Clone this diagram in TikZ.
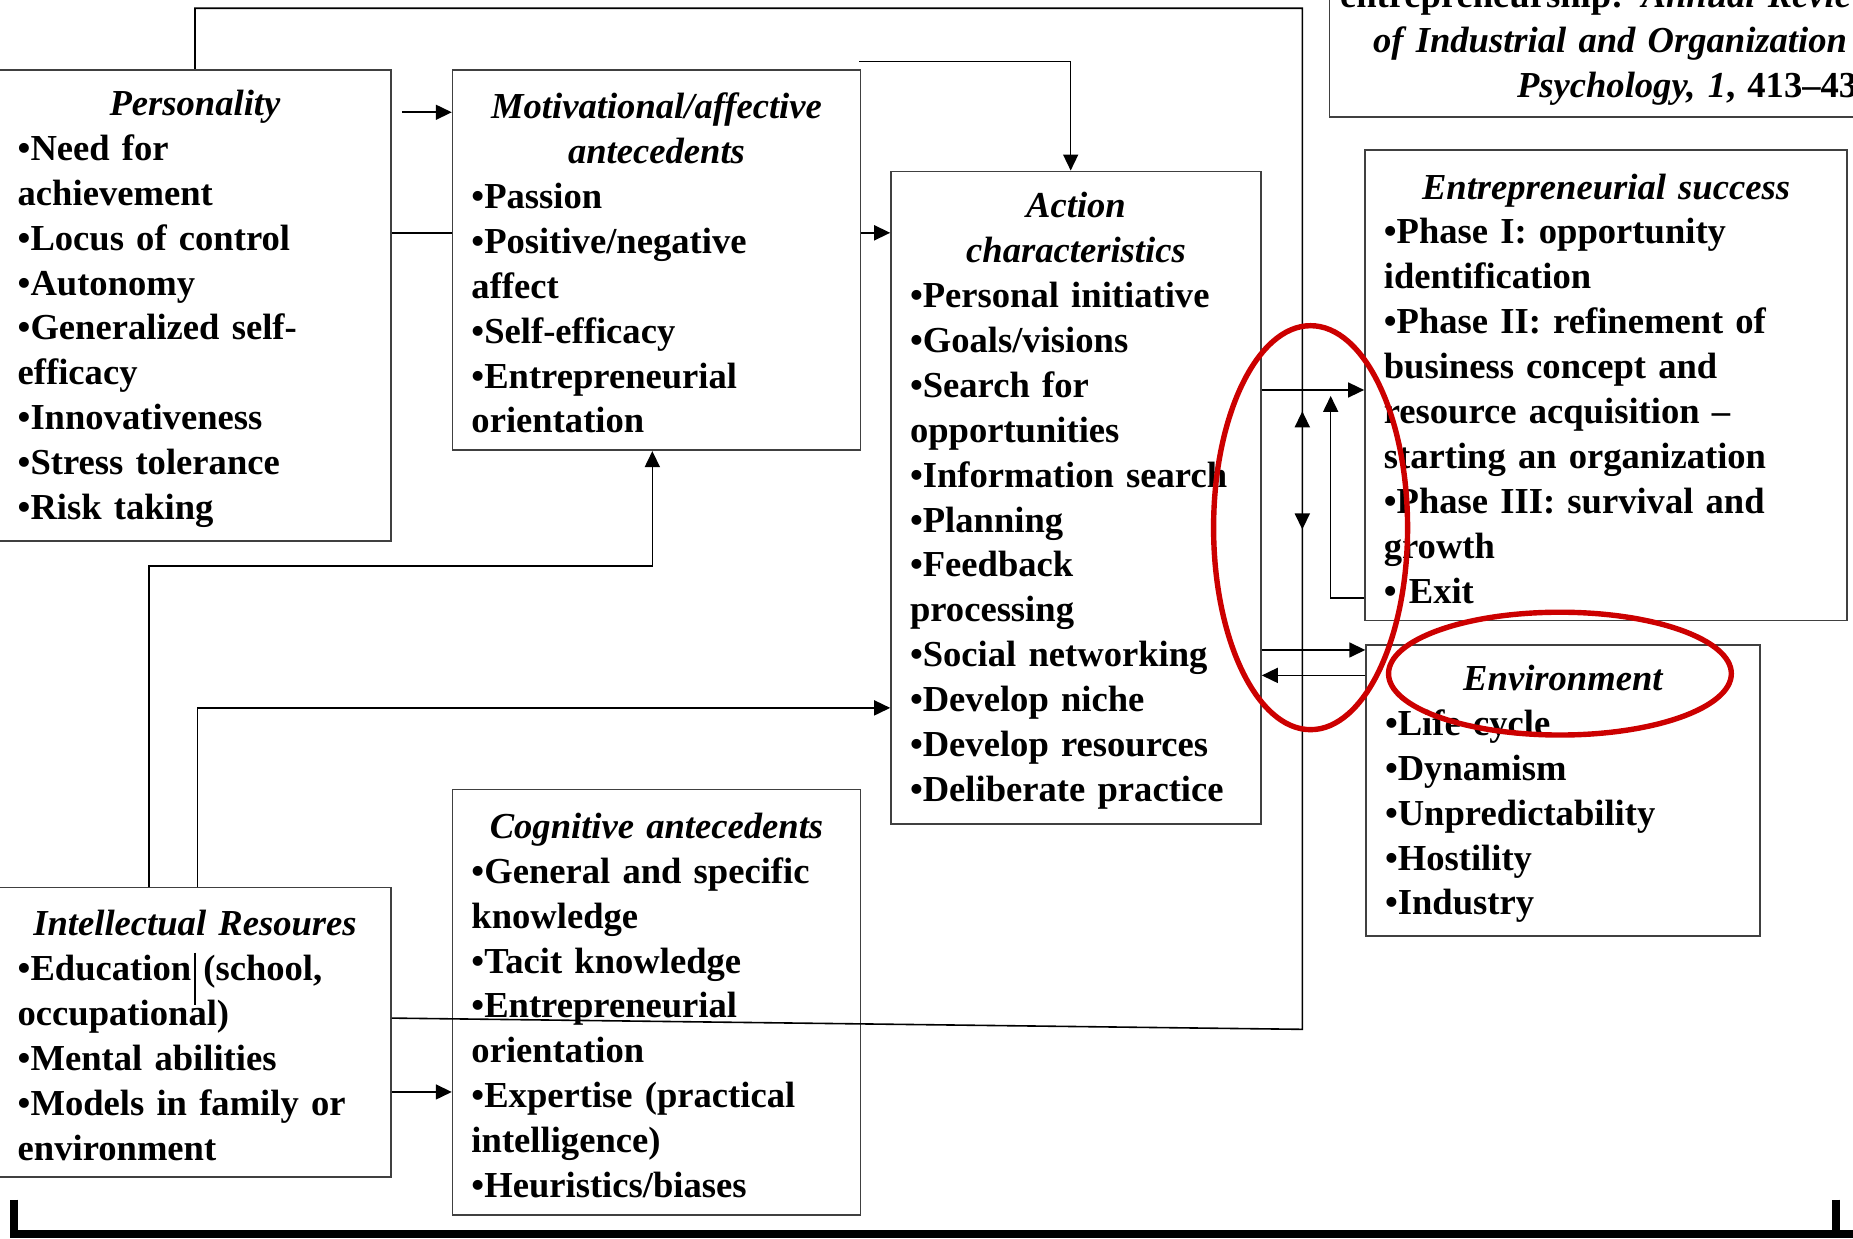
\documentclass[tikz,border=0pt]{standalone}
\usepackage{fontspec}
\setmainfont{Liberation Serif}
\usetikzlibrary{arrows.meta}
\definecolor{ringred}{RGB}{204,0,0}
\newcommand{\hd}[1]{\makebox[\linewidth]{\itshape #1}}

\begin{document}
\begin{tikzpicture}[x=0.5909pt, y=-0.5909pt]
\tikzset{>={Triangle[length=8pt, width=7.5pt]},
    block/.style={rectangle, draw=black!75, line width=0.8pt, align=left, inner xsep=9.45pt, inner ysep=0pt,
        text height=16pt, font=\fontsize{18.3}{22.45}\selectfont\bfseries},
    link/.style={line width=0.8pt},
    ring/.style={draw=ringred, line width=2.7pt}
}
\useasboundingbox (0,0) rectangle (1568,1048);

  \node[block, minimum width=196.2pt, minimum height=235.8pt, text width=177.3pt] (pers) at (165,258.5)
    {\hd{Personality}\\ •Need for\\ achievement\\ •Locus of control\\ •Autonomy\\ •Generalized self-\\ efficacy\\ •Innovativeness\\ •Stress tolerance\\ •Risk taking};
  \node[block, minimum width=203.9pt, minimum height=190.3pt, text width=185pt] (motiv) at (555.5,220)
    {\hd{Motivational/affective}\\ \hd{antecedents}\\ •Passion\\ •Positive/negative\\ affect\\ •Self-efficacy\\ •Entrepreneurial\\ orientation};
  \node[block, minimum width=185pt, minimum height=326.2pt, text width=166pt] (action) at (910.5,421)
    {\hd{Action}\\ \hd{characteristics}\\ •Personal initiative\\ •Goals/visions\\ •Search for\\ opportunities\\ •Information search\\ •Planning\\ •Feedback\\ processing\\ •Social networking\\ •Develop niche\\ •Develop resources\\ •Deliberate practice};
  \node[block, align=right, inner xsep=4.73pt, minimum width=277.7pt, minimum height=76.8pt, text width=268.3pt] (cite) at (1360,34)
    {entrepreneurship: \textit{Annual Revie\phantom{w}}\\ \textit{of Industrial and Organization\phantom{al}}\\ \textit{Psychology, 1}, 413–43\phantom{8}};
  \node[block, minimum width=241.1pt, minimum height=235.2pt, text width=222.2pt] (success) at (1359,326)
    {\hd{Entrepreneurial success}\\ •Phase I: opportunity\\ identification\\ •Phase II: refinement of\\ business concept and\\ resource acquisition –\\ starting an organization\\ •Phase III: survival and\\ growth\\ • Exit};
  \node[block, minimum width=196.8pt, minimum height=145.4pt, text width=177.9pt] (env) at (1322.5,669)
    {\hd{Environment}\\ •Life cycle\\ •Dynamism\\ •Unpredictability\\ •Hostility\\ •Industry};
  \node[block, minimum width=196.2pt, minimum height=144.8pt, text width=177.3pt] (intel) at (165,873.5)
    {\hd{Intellectual Resoures}\\ •Education (school,\\ occupational)\\ •Mental abilities\\ •Models in family or\\ environment};
  \node[block, minimum width=203.9pt, minimum height=212.7pt, text width=185pt] (cogn) at (555.5,848)
    {\hd{Cognitive antecedents}\\ •General and specific\\ knowledge\\ •Tacit knowledge\\ •Entrepreneurial\\ orientation\\ •Expertise (practical\\ intelligence)\\ •Heuristics/biases};

  % feedback loop round the whole model
  \coordinate (ptop) at (1102,7);
  \coordinate (pbot) at (1102,871);
  \coordinate (pend) at (0,861.5);
  \draw[link] (pers.north) |- (ptop) -- (pbot) -- (intel.east |- pend);
  \coordinate (bi1) at (1102,348);
  \coordinate (bi2) at (1102,448);
  \draw[link,<->] (bi1) -- (bi2);

  \coordinate (pm1) at (340,95);
  \draw[link,->] (pm1) -- (motiv.west |- pm1);
  \coordinate (pm2) at (0,197);
  \draw[link] (pers.east |- pm2) -- (motiv.west |- pm2);
  \draw[link,->] (motiv.east |- pm2) -- (action.west |- pm2);
  \coordinate (ma1) at (727,52);
  \coordinate (ma2) at (906,52);
  \draw[link,->] (ma1) -- (ma2) -- (ma2 |- action.north);

  \coordinate (im1) at (126,479);
  \coordinate (im2) at (552,479);
  \draw[link,->] (intel.north -| im1) -- (im1) -- (im2) -- (im2 |- motiv.south);
  \coordinate (ia1) at (167,599);
  \draw[link,->] (intel.north -| ia1) -- (ia1) -- (action.west |- ia1);
  \coordinate (ic1) at (0,924);
  \draw[link,->] (intel.east |- ic1) -- (cogn.west |- ic1);
  \coordinate (st1) at (165,806);
  \coordinate (st2) at (165,850);
  \draw[link] (st1) -- (st2);

  \coordinate (as1) at (0,330);
  \draw[link,->] (action.east |- as1) -- (success.west |- as1);
  \coordinate (sa1) at (1126,506);
  \coordinate (sa2) at (1126,335);
  \draw[link,->] (success.west |- sa1) -- (sa1) -- (sa2);
  \coordinate (ae1) at (0,550);
  \draw[link,->] (action.east |- ae1) -- (env.west |- ae1);
  \coordinate (ea1) at (0,571.5);
  \draw[link,->] (env.west |- ea1) -- (action.east |- ea1);

  % bracket at the bottom
  \draw[line width=4pt] (12,1015) -- (12,1044.5) -- (1575,1044.5);
  \draw[line width=4pt] (1554,1015) -- (1554,1044.5);

  % red marks
  \draw[ring] (1109,446.5) ellipse [x radius=48.5pt, y radius=101pt];
  \draw[ring] (1320,570) ellipse [x radius=85.7pt, y radius=30.7pt];
\end{tikzpicture}
\end{document}
